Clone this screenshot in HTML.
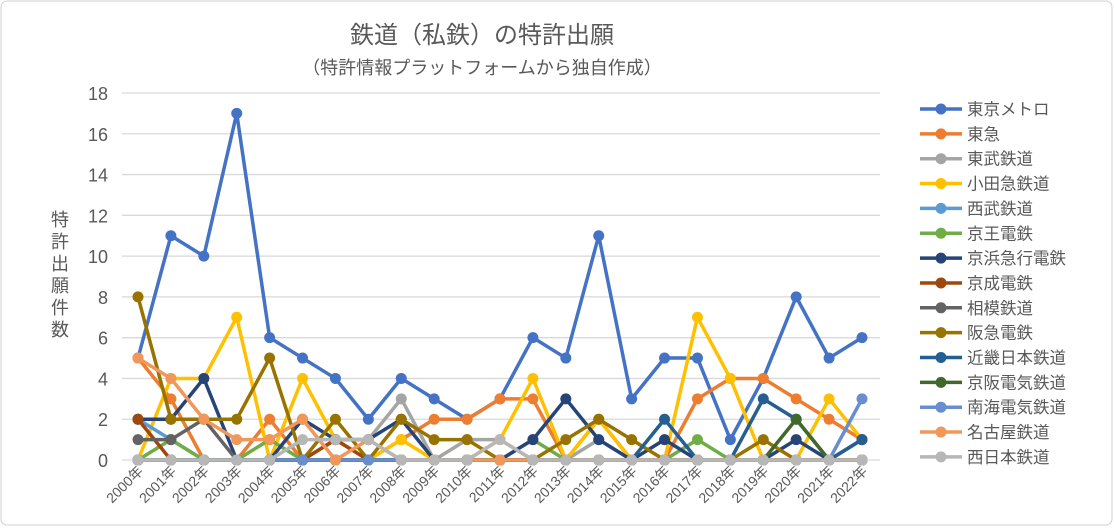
<!DOCTYPE html>
<html><head><meta charset="utf-8"><style>
body{margin:0;background:#fff;}
svg text{font-family:"Liberation Sans","Noto Sans CJK JP",sans-serif;}
</style></head><body>
<svg id="chart" width="1114" height="527" xmlns="http://www.w3.org/2000/svg">
<rect x="1" y="1" width="1111" height="524" rx="6" fill="#fff" stroke="#d0d0d0"/>
<text x="482" y="43" font-size="24" fill="#595959" text-anchor="middle">鉄道（私鉄）の特許出願</text>
<text x="482" y="74" font-size="18" fill="#595959" text-anchor="middle">（特許情報プラットフォームから独自作成）</text>
<text font-size="18" fill="#595959" letter-spacing="4" transform="translate(59,210)" style="writing-mode:vertical-rl">特許出願件数</text>
<g id="grid"></g><g id="xlabels"></g><g id="series"></g><g id="legend"></g>
</svg>
<script>
const years=["2000年","2001年","2002年","2003年","2004年","2005年","2006年","2007年","2008年","2009年","2010年","2011年","2012年","2013年","2014年","2015年","2016年","2017年","2018年","2019年","2020年","2021年","2022年"];
const yTicks=[0,2,4,6,8,10,12,14,16,18];
const seriesNames=["東京メトロ","東急","東武鉄道","小田急鉄道","西武鉄道","京王電鉄","京浜急行電鉄","京成電鉄","相模鉄道","阪急電鉄","近畿日本鉄道","京阪電気鉄道","南海電気鉄道","名古屋鉄道","西日本鉄道"];
const seriesColors=["#4472c4","#ed7d31","#a5a5a5","#ffc000","#5b9bd5","#70ad47","#264478","#9e480e","#636363","#997300","#255e91","#43682b","#698ed0","#f1975a","#b7b7b7"];
const tokyoMetro=[5,11,10,17,6,5,4,2,4,3,2,3,6,5,11,3,5,5,1,4,8,5,6];
const tokyu=[5,3,0,0,2,0,1,0,1,2,2,3,3,0,2,0,0,3,4,4,3,2,1];
const tobu=[0,0,0,0,0,0,1,1,3,0,1,1,0,0,1,0,0,0,0,0,0,0,0];
const odakyu=[0,4,4,7,0,4,1,0,1,0,0,1,4,0,2,0,0,7,4,0,0,3,1];
const seibu=[2,1,0,0,0,0,0,0,0,0,0,0,0,0,0,0,0,0,0,0,0,0,0];
const keio=[0,1,0,0,1,0,0,0,0,0,0,0,1,0,0,0,0,1,0,0,0,0,0];
const keikyu=[2,2,4,0,0,2,1,1,2,0,0,0,1,3,1,0,1,0,0,0,1,0,1];
const keisei=[2,0,0,0,0,0,1,0,0,0,0,0,0,0,0,0,0,0,0,0,0,0,0];
const sotetsu=[1,1,2,0,0,0,0,0,0,0,0,0,0,0,0,0,0,0,0,0,0,0,0];
const hankyu=[8,2,2,2,5,0,2,0,2,1,1,0,0,1,2,1,0,0,0,1,0,0,0];
const kintetsu=[0,0,0,0,0,0,0,0,0,0,0,0,0,0,0,0,2,0,0,3,2,0,1];
const keihan=[0,0,0,0,0,0,0,0,0,0,0,0,0,0,0,0,0,0,0,0,2,0,0];
const nankai=[0,0,0,0,0,0,0,0,0,0,0,0,0,0,0,0,0,0,0,0,0,0,3];
const meitetsu=[5,4,2,1,1,2,0,1,0,0,0,0,0,0,0,0,0,0,0,0,0,0,0];
const nishitetsu=[0,0,0,0,0,1,1,1,0,0,0,1,0,0,0,0,0,0,0,0,0,0,0];
const allSeries=[tokyoMetro,tokyu,tobu,odakyu,seibu,keio,keikyu,keisei,sotetsu,hankyu,kintetsu,keihan,nankai,meitetsu,nishitetsu];

const NS="http://www.w3.org/2000/svg";
const X0=138,X1=862,Y0=460,Y18=93;
const xs=i=>X0+(X1-X0)*i/(years.length-1);
const ys=v=>Y0-(Y0-Y18)*v/18;
function mk(tag,attrs,parent){const e=document.createElementNS(NS,tag);for(const k in attrs)e.setAttribute(k,attrs[k]);parent.appendChild(e);return e;}
const grid=document.getElementById('grid');
yTicks.forEach(t=>{
 const l=mk('line',{x1:122,x2:880,y1:ys(t),y2:ys(t),stroke:'#d9d9d9','stroke-width':1.3},grid);
 
 
 const tx=mk('text',{x:108,y:ys(t)+7,'font-size':18,fill:'#595959','text-anchor':'end'},grid);
 tx.textContent=t;
 
 
});
const xl=document.getElementById('xlabels');
years.forEach((y,i)=>{
 const t=mk('text',{'font-size':14,fill:'#595959','text-anchor':'end',transform:`translate(${xs(i)+6},${472}) rotate(-45)`},xl);
 t.textContent=y;
 
 
});
const sg=document.getElementById('series');
allSeries.forEach((d,s)=>{
 const g=mk('g',{},sg);
 
 
 const pts=d.map((v,i)=>xs(i)+','+ys(v)).join(' ');
 const pl=mk('polyline',{points:pts,fill:'none',stroke:seriesColors[s],'stroke-width':3.5,'stroke-linejoin':'round'},g);
 
 
 d.forEach((v,i)=>{
  const c=mk('circle',{cx:xs(i),cy:ys(v),r:5.5,fill:seriesColors[s]},g);
  
  
 });
});
const lg=document.getElementById('legend');
seriesNames.forEach((n,s)=>{
 const y=109+s*24.85;
 const g=mk('g',{},lg);
 
 
 mk('line',{x1:920,x2:962,y1:y,y2:y,stroke:seriesColors[s],'stroke-width':3.5},g);
 mk('circle',{cx:941,cy:y,r:5.5,fill:seriesColors[s]},g);
 const t=mk('text',{x:967,y:y+6,'font-size':16.5,fill:'#595959'},g);
 t.textContent=n;
});
</script>
</body></html>
